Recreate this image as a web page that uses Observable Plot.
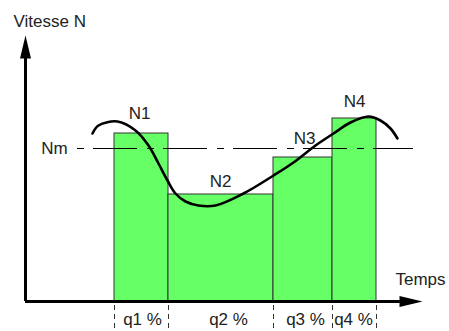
<!DOCTYPE html>
<html>
<head>
<meta charset="utf-8">
<script src="https://cdn.jsdelivr.net/npm/d3@7"></script>
<script src="https://cdn.jsdelivr.net/npm/@observablehq/plot@0.6"></script>
<style>
  html, body { margin: 0; padding: 0; background: #fff; }
  svg { display: block; }
</style>
</head>
<body>
<div id="chart"></div>
<script>
// Bars: time intervals (start/end) and speed levels
const barStart = [89, 143, 248, 307];
const barEnd   = [143, 248, 307, 351];
const barLevel = [168, 107, 144, 183];
const barNames = ["N1", "N2", "N3", "N4"];
const barNameX = [114, 195, 279, 329];
const barNameY = [188, 120, 163, 200];
const shareLabels = ["q1 %", "q2 %", "q3 %", "q4 %"];
const shareLabelX = [117, 203, 280, 328];

// Mean speed
const meanLevel = 153;
const meanStart = 52, meanEnd = 388;

// Speed curve
const curveT = [67, 73, 92, 110, 123, 133, 142, 150, 160, 173, 190, 218, 248, 268, 290, 308, 325, 343, 355, 365, 372];
const curveN = [168, 176, 180, 171, 156, 138, 121, 108, 100, 96, 96, 108, 126, 139, 156, 168, 179, 185, 181, 173, 163];

// Axes extents
const xAxisEnd = 397, yAxisEnd = 266;

const bars = barStart.map((s, i) => ({x1: s, x2: barEnd[i], y: barLevel[i]}));
const curve = curveT.map((t, i) => ({t, n: curveN[i]}));
const bounds = Array.from(new Set([...barStart, ...barEnd]));

const arrowHead = {
  draw(ctx) {
    ctx.moveTo(0, 0);
    ctx.lineTo(-23, -5.5);
    ctx.lineTo(-23, 5.5);
    ctx.closePath();
  }
};

const font = "Liberation Sans, Arial, sans-serif";

const chart = Plot.plot({
  width: 449,
  height: 331,
  marginLeft: 25,
  marginRight: 0,
  marginTop: 0,
  marginBottom: 30,
  x: {domain: [0, 424], axis: null},
  y: {domain: [0, 301], axis: null},
  style: {fontFamily: font, fontSize: "17px", background: "#fff"},
  marks: [
    Plot.rectY(bars, {x1: "x1", x2: "x2", y: "y", fill: "#66ff66", stroke: "#333", strokeWidth: 1}),
    Plot.ruleX(bounds, {x: d => d, y1: 0, y2: -30, stroke: "#333", strokeWidth: 1, strokeDasharray: "5,4", strokeDashoffset: 5}),
    Plot.ruleY([meanLevel], {y: d => d, x1: meanStart, x2: meanEnd, stroke: "#000", strokeWidth: 1, strokeDasharray: "7,9,44,10"}),
    Plot.line(curve, {x: "t", y: "n", curve: "catmull-rom", stroke: "#000", strokeWidth: 2.6}),
    Plot.ruleY([0], {x1: 0, x2: xAxisEnd - 10, stroke: "#000", strokeWidth: 3}),
    Plot.ruleX([0], {y1: 0, y2: yAxisEnd - 10, stroke: "#000", strokeWidth: 3}),
    Plot.dot([{x: xAxisEnd, y: 0, r: 0}], {x: "x", y: "y", symbol: arrowHead, fill: "#000", stroke: null, r: 5}),
    Plot.dot([{x: 0, y: yAxisEnd}], {x: "x", y: "y", symbol: arrowHead, fill: "#000", stroke: null, r: 5, rotate: -90}),
    Plot.text(barNames, {x: (d, i) => barNameX[i], y: (d, i) => barNameY[i], text: d => d, fill: "#222", fontSize: 17}),
    Plot.text(shareLabels, {x: (d, i) => shareLabelX[i], y: -18, text: d => d, fill: "#222", fontSize: 17}),
    Plot.text(["Nm"], {x: 29, y: meanLevel, text: d => d, fill: "#222", fontSize: 17}),
    Plot.text(["Vitesse N"], {x: -12, y: 280, text: d => d, textAnchor: "start", fill: "#222", fontSize: 17}),
    Plot.text(["Temps"], {x: 370, y: 22, text: d => d, textAnchor: "start", fill: "#222", fontSize: 17})
  ]
});
document.getElementById("chart").appendChild(chart);
</script>
</body>
</html>
